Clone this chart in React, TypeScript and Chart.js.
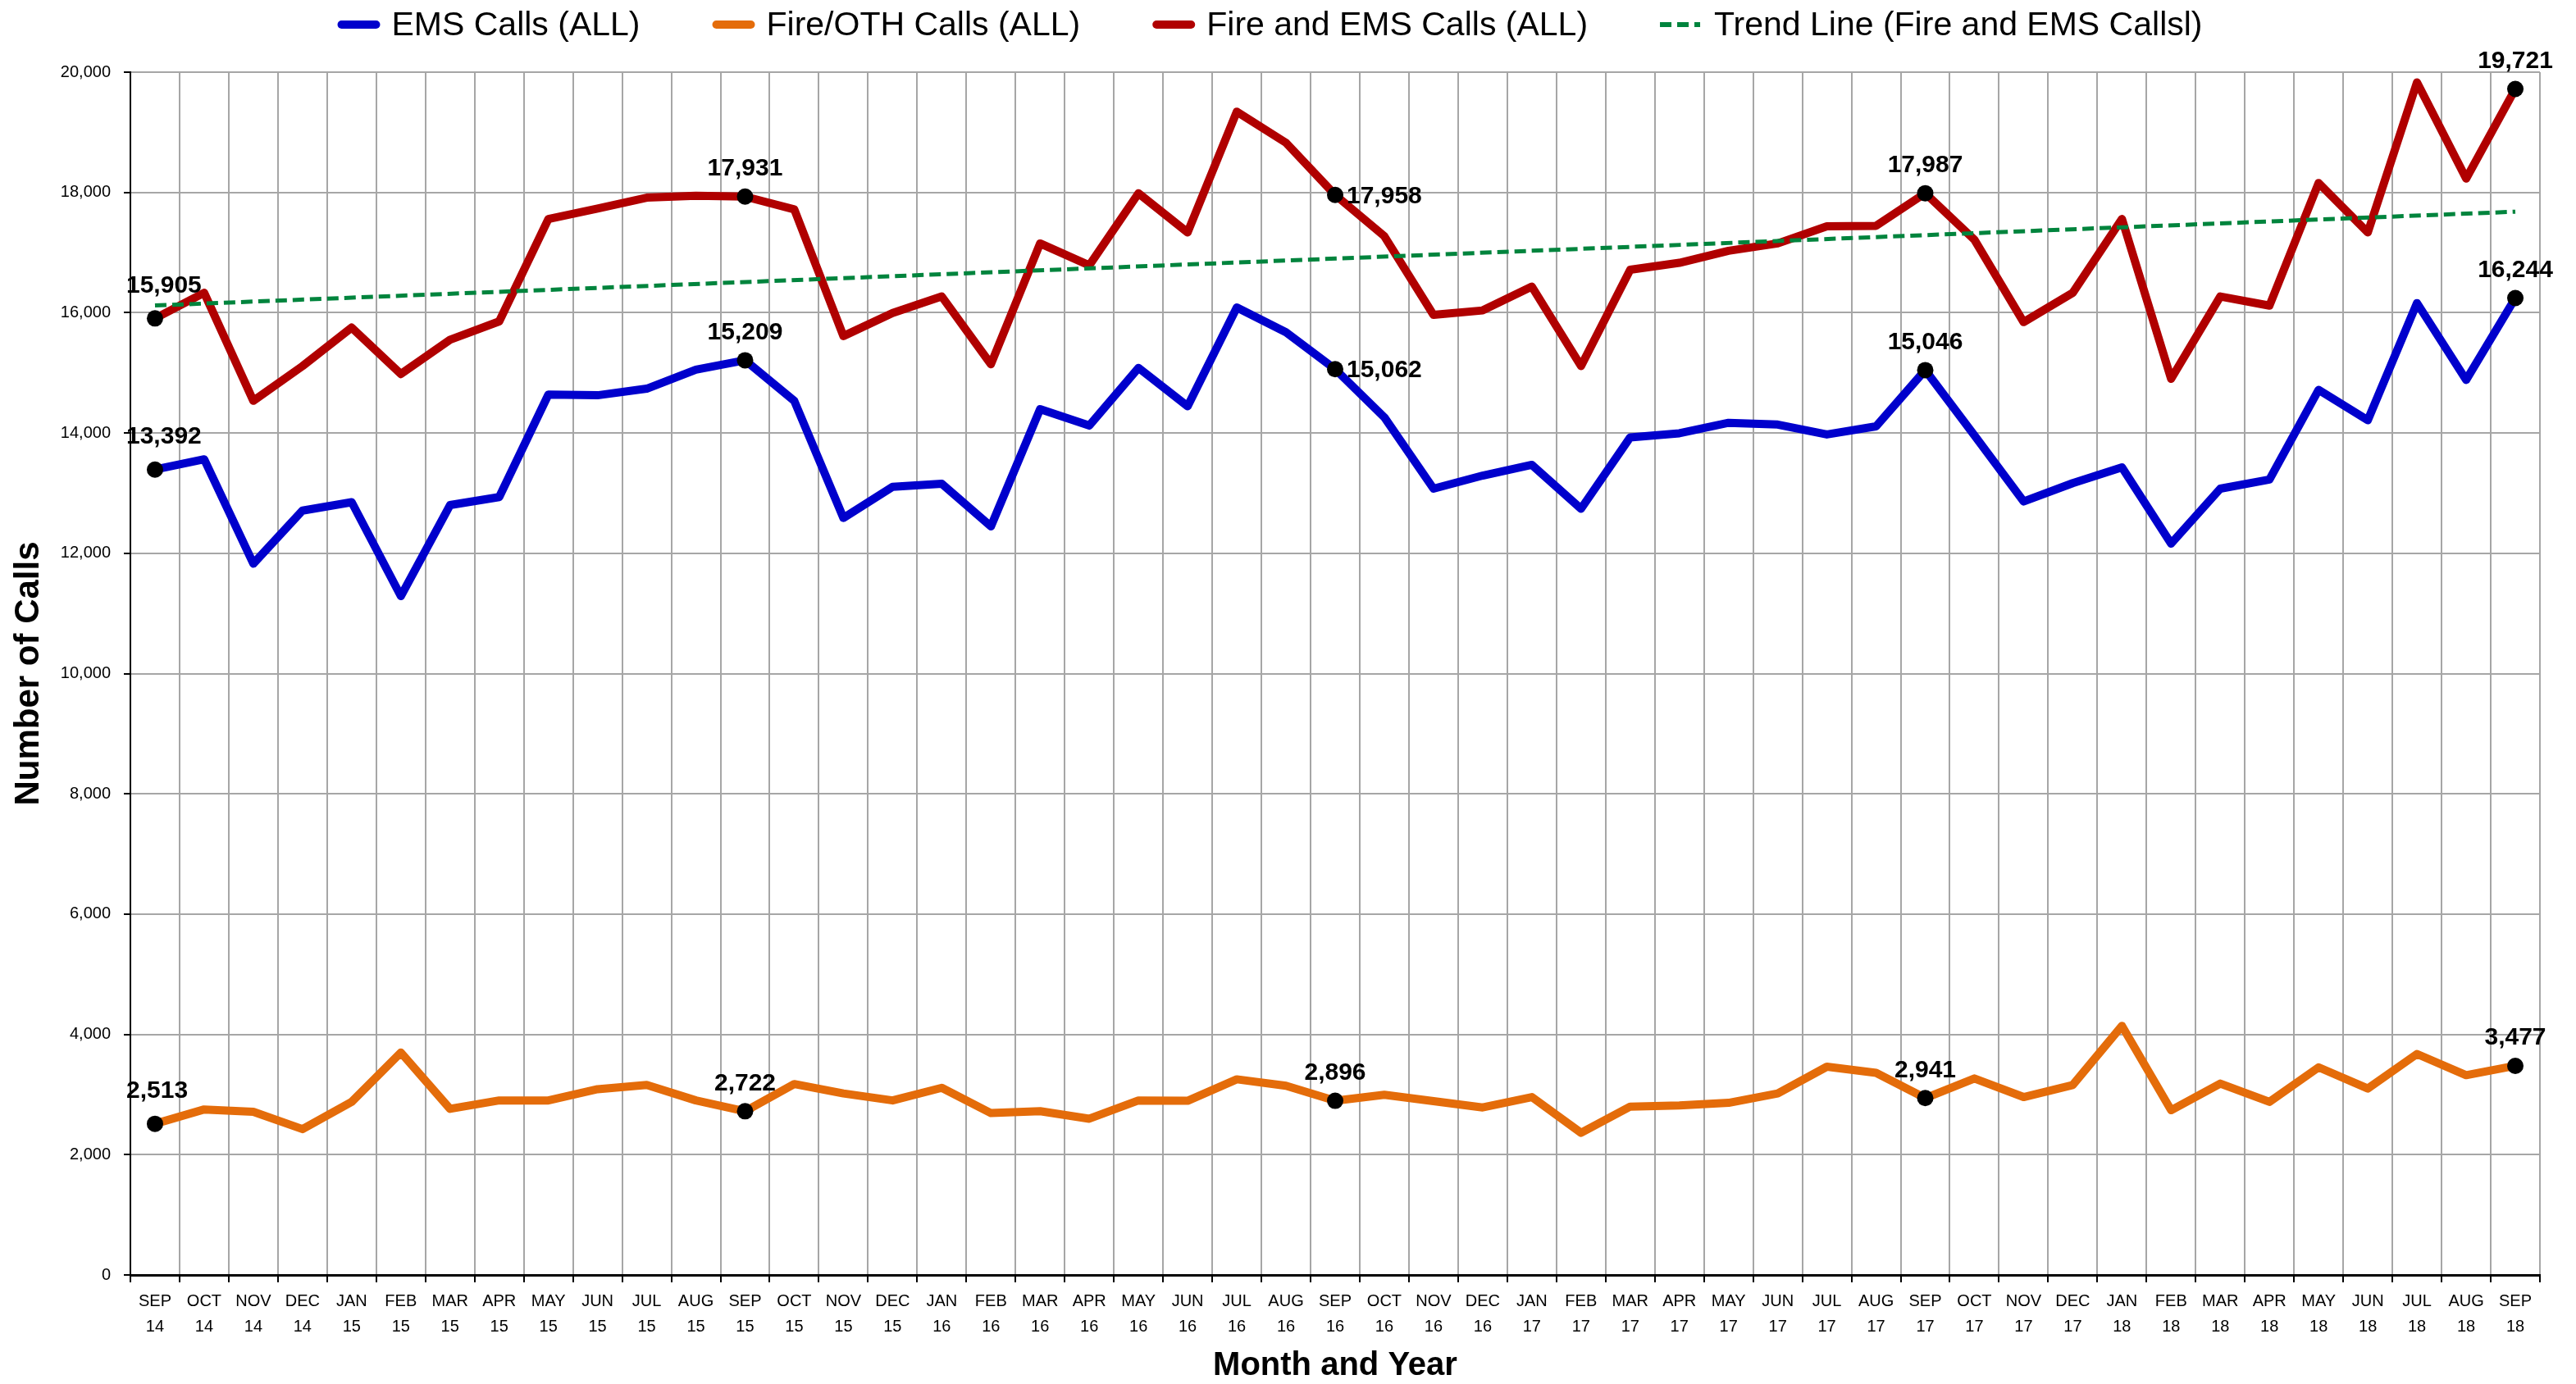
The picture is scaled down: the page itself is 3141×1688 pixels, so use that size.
import React, { useEffect, useRef } from "react";
import { Chart, registerables } from "chart.js";

Chart.register(...registerables);

const monthLabels = [
  "SEP", "OCT", "NOV", "DEC",
  "JAN", "FEB", "MAR", "APR", "MAY", "JUN", "JUL", "AUG", "SEP", "OCT", "NOV", "DEC",
  "JAN", "FEB", "MAR", "APR", "MAY", "JUN", "JUL", "AUG", "SEP", "OCT", "NOV", "DEC",
  "JAN", "FEB", "MAR", "APR", "MAY", "JUN", "JUL", "AUG", "SEP", "OCT", "NOV", "DEC",
  "JAN", "FEB", "MAR", "APR", "MAY", "JUN", "JUL", "AUG", "SEP",
];
const yearLabels = [
  "14", "14", "14", "14",
  "15", "15", "15", "15", "15", "15", "15", "15", "15", "15", "15", "15",
  "16", "16", "16", "16", "16", "16", "16", "16", "16", "16", "16", "16",
  "17", "17", "17", "17", "17", "17", "17", "17", "17", "17", "17", "17",
  "18", "18", "18", "18", "18", "18", "18", "18", "18",
];

const emsCalls = [
  13392, 13562, 11827, 12710, 12849, 11288, 12801, 12935, 14639, 14627, 14737, 15052, 15209,
  14535, 12587, 13105, 13156, 12447, 14396, 14123, 15083, 14444, 16087, 15674, 15062,
  14261, 13074, 13292, 13470, 12740, 13927, 13995, 14170, 14140, 13975, 14110, 15046,
  13960, 12862, 13167, 13428, 12161, 13074, 13227, 14718, 14212, 16160, 14882, 16244,
];
const fireOthCalls = [
  2513, 2752, 2714, 2425, 2878, 3697, 2762, 2902, 2902, 3089, 3159, 2902, 2722,
  3174, 3018, 2902, 3112, 2691, 2724, 2598, 2902, 2896, 3253, 3145, 2896,
  2995, 2890, 2785, 2958, 2364, 2799, 2820, 2862, 3018, 3463, 3361, 2941,
  3267, 2958, 3159, 4142, 2739, 3182, 2878, 3453, 3099, 3674, 3322, 3477,
];
const fireAndEmsCalls = [
  15905, 16331, 14535, 15113, 15753, 14980, 15551, 15855, 17559, 17731, 17914, 17944, 17931,
  17719, 15612, 15996, 16270, 15144, 17152, 16788, 17986, 17335, 19343, 18826, 17958,
  17273, 15964, 16038, 16434, 15113, 16714, 16830, 17030, 17152, 17438, 17445, 17987,
  17213, 15844, 16331, 17559, 14901, 16270, 16118, 18157, 17335, 19830, 18230, 19721,
];
// Trend line end values (first and last month)
const trendStart = 16120;
const trendEnd = 17680;

const yTicks = { min: 0, max: 20000, step: 2000 };

// months carrying a marker + value label
const markedMonths = [0, 12, 24, 36, 48];
// label placement per series: dataset index, month index, side
const valueLabels = [
  { ds: 0, i: 0, side: "above" }, { ds: 0, i: 12, side: "above" }, { ds: 0, i: 24, side: "right" },
  { ds: 0, i: 36, side: "above" }, { ds: 0, i: 48, side: "above" },
  { ds: 1, i: 0, side: "above" }, { ds: 1, i: 12, side: "above" }, { ds: 1, i: 24, side: "above" },
  { ds: 1, i: 36, side: "above" }, { ds: 1, i: 48, side: "above" },
  { ds: 2, i: 0, side: "above" }, { ds: 2, i: 12, side: "above" }, { ds: 2, i: 24, side: "right" },
  { ds: 2, i: 36, side: "above" }, { ds: 2, i: 48, side: "above" },
];

const FONT = '"Liberation Sans", Arial, sans-serif';

const legendPlugin = {
  id: "topLegend",
  afterDraw(chart: any) {
    const ctx = chart.ctx;
    const items = chart.data.datasets.map((ds: any) => ({
      label: ds.label,
      color: ds.borderColor,
      dash: ds.borderDash || [],
      width: ds.borderWidth,
    }));
    ctx.save();
    ctx.font = `41px ${FONT}`;
    const swatchW = 52;
    const gap = 14;
    const itemGap = 88;
    const widths = items.map((it: any) => swatchW + gap + ctx.measureText(it.label).width);
    const total = widths.reduce((a: number, b: number) => a + b, 0) + itemGap * (items.length - 1);
    const centerX = chart.chartArea.right / 2;
    let x = centerX - total / 2;
    const y = 30;
    items.forEach((it: any, k: number) => {
      ctx.beginPath();
      ctx.strokeStyle = it.color;
      if (it.dash.length) {
        ctx.lineWidth = 6;
        ctx.lineCap = "butt";
        ctx.setLineDash([14, 7]);
        ctx.moveTo(x, y);
        ctx.lineTo(x + swatchW - 3, y);
      } else {
        ctx.lineWidth = 10;
        ctx.lineCap = "round";
        ctx.setLineDash([]);
        ctx.moveTo(x + 5, y);
        ctx.lineTo(x + swatchW - 5, y);
      }
      ctx.stroke();
      ctx.setLineDash([]);
      ctx.fillStyle = "#000";
      ctx.textAlign = "left";
      ctx.textBaseline = "middle";
      ctx.fillText(it.label, x + swatchW + gap, y + 2);
      x += widths[k] + itemGap;
    });
    ctx.restore();
  },
};

const valueLabelPlugin = {
  id: "valueLabels",
  afterDatasetsDraw(chart: any) {
    const ctx = chart.ctx;
    const area = chart.chartArea;
    ctx.save();
    ctx.font = `bold 30px ${FONT}`;
    ctx.fillStyle = "#000";
    ctx.textBaseline = "middle";
    valueLabels.forEach((spec) => {
      const pt = chart.getDatasetMeta(spec.ds).data[spec.i];
      const value = chart.data.datasets[spec.ds].data[spec.i];
      if (!pt || value == null) return;
      const text = Number(value).toLocaleString("en-US");
      const w = ctx.measureText(text).width;
      if (spec.side === "right") {
        ctx.textAlign = "left";
        ctx.fillText(text, pt.x + 14, pt.y + 2);
      } else {
        let left = pt.x - w / 2;
        let lift = 34;
        if (left < area.left - 5) {
          left = area.left - 5;
          lift = 40;
        }
        ctx.textAlign = "left";
        ctx.fillText(text, left, pt.y - lift);
      }
    });
    ctx.restore();
  },
};

export default function App() {
  const canvasRef = useRef<HTMLCanvasElement | null>(null);

  useEffect(() => {
    const canvas = canvasRef.current;
    if (!canvas) return;
    const labels = monthLabels.map((m, i) => [m, yearLabels[i]]);
    const trendData = labels.map((_, i) =>
      i === 0 ? trendStart : i === labels.length - 1 ? trendEnd : null
    );
    const markerRadius = (c: any) => (markedMonths.includes(c.dataIndex) ? 10 : 0);

    const lineCommon = {
      borderWidth: 10,
      tension: 0,
      fill: false,
      pointRadius: markerRadius,
      pointHoverRadius: markerRadius,
      pointBackgroundColor: "#000",
      pointBorderColor: "#000",
      pointBorderWidth: 0,
      borderJoinStyle: "round" as const,
      borderCapStyle: "round" as const,
      order: 1,
    };

    const chart = new Chart(canvas, {
      type: "line",
      data: {
        labels,
        datasets: [
          { label: "EMS Calls (ALL)", data: emsCalls, borderColor: "#0000CC", backgroundColor: "#0000CC", ...lineCommon },
          { label: "Fire/OTH Calls (ALL)", data: fireOthCalls, borderColor: "#E46C0A", backgroundColor: "#E46C0A", ...lineCommon },
          { label: "Fire and EMS Calls (ALL)", data: fireAndEmsCalls, borderColor: "#B00000", backgroundColor: "#B00000", ...lineCommon },
          {
            label: "Trend Line (Fire and EMS Callsl)",
            data: trendData,
            borderColor: "#00843D",
            backgroundColor: "#00843D",
            borderWidth: 5,
            borderDash: [14, 7],
            pointRadius: 0,
            pointHoverRadius: 0,
            spanGaps: true,
            fill: false,
            order: 0,
          },
        ],
      },
      options: {
        responsive: false,
        animation: false,
        events: [],
        layout: { padding: { top: 88, right: 44, left: 0, bottom: 0 } },
        plugins: {
          legend: { display: false },
          tooltip: { enabled: false },
        },
        scales: {
          x: {
            type: "category",
            offset: true,
            grid: {
              offset: true,
              color: "#A6A6A6",
              lineWidth: 2,
              tickColor: "#000",
              tickLength: 9,
              tickWidth: 2,
            },
            border: { color: "#000", width: 3 },
            ticks: {
              color: "#000",
              autoSkip: false,
              maxRotation: 0,
              minRotation: 0,
              padding: 8,
              font: { family: FONT, size: 20, lineHeight: 1.55 },
            },
            title: {
              display: true,
              text: "Month and Year",
              color: "#000",
              font: { family: FONT, size: 40, weight: "bold", lineHeight: 1 },
              padding: { top: 0, bottom: 2 },
            },
            afterFit: (scale: any) => {
              scale.height = 133;
            },
          },
          y: {
            min: yTicks.min,
            max: yTicks.max,
            grid: {
              color: "#A6A6A6",
              lineWidth: 2,
              tickColor: "#000",
              tickLength: 8,
              tickWidth: 2,
            },
            border: { color: "#000", width: 2 },
            ticks: {
              stepSize: yTicks.step,
              color: "#000",
              padding: 16,
              font: { family: FONT, size: 20 },
              callback: (v: any) => Number(v).toLocaleString("en-US"),
            },
            title: {
              display: true,
              text: "Number of Calls",
              color: "#000",
              font: { family: FONT, size: 42, weight: "bold", lineHeight: 1 },
              padding: { top: 14, bottom: 0 },
            },
            afterFit: (scale: any) => {
              scale.width = 159;
            },
          },
        },
      },
      plugins: [legendPlugin, valueLabelPlugin],
    });
    return () => chart.destroy();
  }, []);

  return (
    <div style={{ position: "fixed", left: 0, top: 0, width: 3141, height: 1688, background: "#fff" }}>
      <canvas ref={canvasRef} width={3141} height={1688} style={{ display: "block", width: 3141, height: 1688 }} />
    </div>
  );
}
